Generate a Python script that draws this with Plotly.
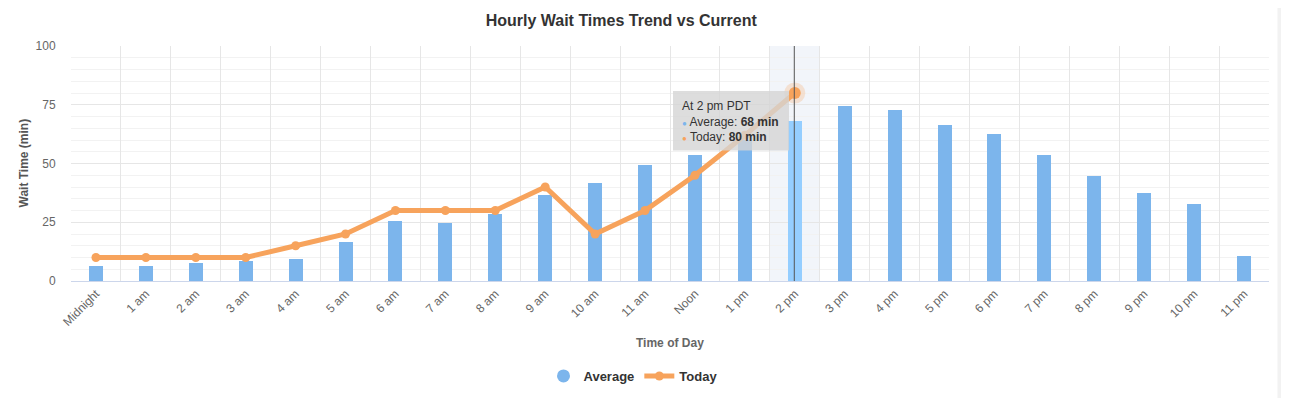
import plotly.graph_objects as go

hours = ["Midnight", "1 am", "2 am", "3 am", "4 am", "5 am", "6 am", "7 am", "8 am",
         "9 am", "10 am", "11 am", "Noon", "1 pm", "2 pm", "3 pm", "4 pm", "5 pm",
         "6 pm", "7 pm", "8 pm", "9 pm", "10 pm", "11 pm"]
average = [6.4, 6.4, 7.6, 8.5, 9.3, 16.6, 25.5, 24.7, 28.5, 36.6, 41.7, 49.4,
           53.6, 60, 68, 74.4, 72.7, 66.3, 62.4, 53.6, 44.8, 37.6, 32.8, 10.6]
today = [10, 10, 10, 10, 15, 20, 30, 30, 30, 40, 20, 30, 45, 62, 80]
hover_index = 14
tz_label = "PDT"

FONT = "Liberation Sans, Arial, sans-serif"
BAR = "#7cb5ec"
BAR_HOVER = "#95ceff"
LINE = "#f7a35c"

# the page body adds an 8px offset; work in window pixel coordinates
OFF = 8
WIN_W, WIN_H = 1289, 398
W, H = WIN_W - OFF, WIN_H - OFF
PL, PR, PT, PB = 71, 1269, 46, 281  # plot area in window pixels
L, R, T, B = PL - OFF, PR - OFF, PT - OFF, PB - OFF


def px(xw):
    return (xw - PL) / (PR - PL)


def py(yw):
    return (PB - yw) / (PB - PT)


bar_colors = [BAR_HOVER if i == hover_index else BAR for i in range(len(hours))]

fig = go.Figure()

fig.add_trace(go.Bar(
    x=hours, y=average, name="Average", width=0.28,
    marker=dict(color=bar_colors, line=dict(width=0)),
    showlegend=False, hoverinfo="skip",
))
fig.add_trace(go.Scatter(
    x=[hours[0]], y=[None], name="Average", mode="markers",
    marker=dict(color=BAR, size=13, symbol="circle"), showlegend=True,
))
fig.add_trace(go.Scatter(
    x=hours[:len(today)], y=today, name="Today", mode="lines+markers",
    line=dict(color=LINE, width=5), marker=dict(color=LINE, size=9),
    hoverinfo="skip",
))
fig.add_trace(go.Scatter(
    x=[hours[hover_index]], y=[today[hover_index]], mode="markers",
    marker=dict(color="rgba(247,163,92,0.25)", size=21), showlegend=False, hoverinfo="skip",
))
fig.add_trace(go.Scatter(
    x=[hours[hover_index]], y=[today[hover_index]], mode="markers",
    marker=dict(color=LINE, size=12), showlegend=False, hoverinfo="skip",
))

shapes = [
    dict(type="rect", xref="x", yref="paper", x0=hover_index - 0.5, x1=hover_index + 0.5,
         y0=0, y1=1, fillcolor="rgba(204,214,235,0.25)", line=dict(width=0), layer="below"),
    dict(type="line", xref="x", yref="paper", x0=hover_index - 0.01, x1=hover_index - 0.01,
         y0=0, y1=1, line=dict(color="#555555", width=1), layer="above"),
    dict(type="rect", xref="paper", yref="paper", x0=px(673), x1=px(789), y0=py(150.5), y1=py(91),
         fillcolor="rgba(212,212,212,0.8)", line=dict(width=0), layer="above"),
    dict(type="rect", xref="paper", yref="paper", x0=px(1277.5), x1=px(WIN_W),
         y0=py(WIN_H), y1=py(OFF), fillcolor="#f2f2f2", line=dict(width=0), layer="above"),
    dict(type="line", xref="paper", yref="paper", x0=px(1287), x1=px(1287), y0=py(WIN_H), y1=py(OFF),
         line=dict(color="#c8c8c8", width=1, dash="dot"), layer="above"),
]

tooltip_text = (
    f"At {hours[hover_index]} {tz_label}<br>"
    f"<span style='color:{BAR};font-size:8px'>●</span> Average: <b>{average[hover_index]:.0f} min</b><br>"
    f"<span style='color:{LINE};font-size:8px'>●</span> Today: <b>{today[hover_index]:.0f} min</b>"
)

annotations = [
    dict(text=tooltip_text, xref="paper", yref="paper", x=px(680), y=py(121.5),
         xanchor="left", yanchor="middle", align="left", showarrow=False,
         font=dict(family=FONT, size=12, color="#333333")),
    dict(text="<b>Time of Day</b>", xref="paper", yref="paper", x=0.5, y=py(343),
         xanchor="center", yanchor="middle", showarrow=False,
         font=dict(family=FONT, size=12, color="#666666")),
    dict(text="<b>Wait Time (min)</b>", xref="paper", yref="paper", x=px(23), y=0.5,
         xanchor="center", yanchor="middle", textangle=-90, showarrow=False,
         font=dict(family=FONT, size=12, color="#555555")),
]

fig.update_layout(
    width=W, height=H,
    margin=dict(l=L, r=W - R, t=T, b=H - B, pad=0, autoexpand=False),
    paper_bgcolor="white", plot_bgcolor="white",
    font=dict(family=FONT, color="#666666"),
    title=dict(text="<b>Hourly Wait Times Trend vs Current</b>", x=px(644.5), xanchor="center",
               y=1 - (20 - OFF) / H, yanchor="middle",
               font=dict(family=FONT, size=16, color="#333333")),
    shapes=shapes, annotations=annotations,
    showlegend=True,
    legend=dict(orientation="h", x=px(633), xanchor="center", y=py(376), yanchor="middle",
                font=dict(family=FONT, size=13, color="#333333", weight="bold"),
                bgcolor="rgba(0,0,0,0)", itemwidth=30, traceorder="normal"),
    bargap=0,
)

fig.update_xaxes(
    type="category", categoryorder="array", categoryarray=hours,
    range=[-0.5, len(hours) - 0.5], automargin=False,
    tickson="boundaries", showgrid=True, gridcolor="#e6e6e6", gridwidth=1,
    ticks="outside", ticklen=3, tickcolor="rgba(0,0,0,0)", tickangle=-45,
    tickfont=dict(family=FONT, size=12, color="#666666"),
    showline=True, linecolor="#ccd6eb", linewidth=1, zeroline=False, fixedrange=True,
)
fig.update_yaxes(
    range=[0, 100], dtick=25, tick0=0, showgrid=True, gridcolor="#e6e6e6", gridwidth=1,
    minor=dict(dtick=5, showgrid=True, gridcolor="#f2f2f2", gridwidth=1),
    ticks="outside", ticklen=12, tickcolor="rgba(0,0,0,0)", automargin=False,
    tickfont=dict(family=FONT, size=12, color="#666666"),
    zeroline=False, showline=False, fixedrange=True,
)

fig.write_html("out.html")
